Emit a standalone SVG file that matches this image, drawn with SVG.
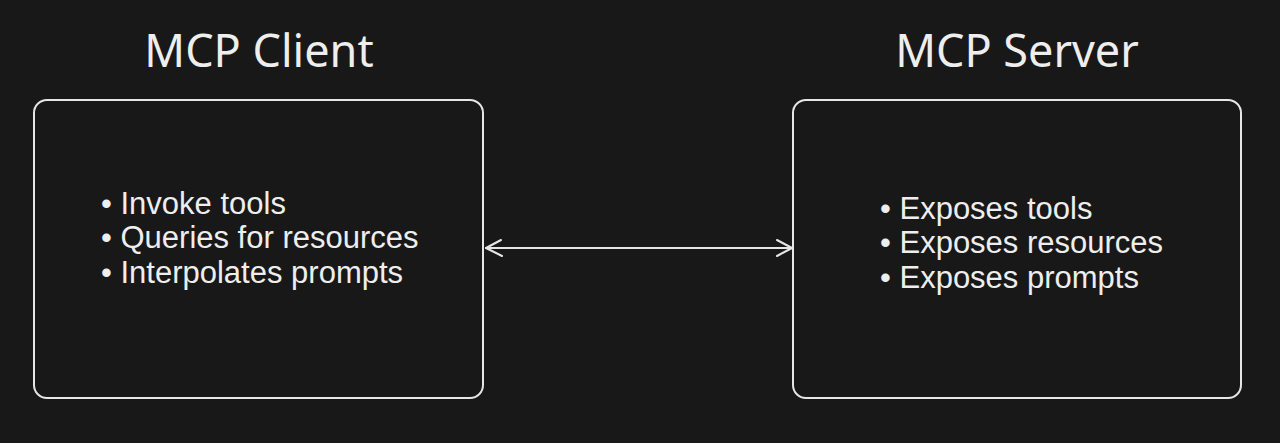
<svg xmlns="http://www.w3.org/2000/svg" width="1280" height="443" viewBox="0 0 1280 443">
<style>
.box{fill:#181818;stroke:#e6e6e6;stroke-width:2}
.title{font-family:"Noto Sans",Lato,sans-serif;font-size:45px;fill:#eeeeee;text-anchor:middle}
.body{font-family:"Liberation Sans",Arial,sans-serif;font-size:31px;fill:#eeeeee}
.conn{stroke:#e6e6e6;stroke-width:2;fill:none;stroke-linecap:round;stroke-linejoin:round}
</style>
<rect width="1280" height="443" fill="#181818"/>
<g id="client">
<text class="title" x="259" y="67">MCP Client</text>
<rect class="box" x="34" y="100" width="449" height="298" rx="13"/>
<text class="body" x="101" y="214">• Invoke tools</text>
<text class="body" x="101" y="248">• Queries for resources</text>
<text class="body" x="101" y="283">• Interpolates prompts</text>
</g>
<g id="server">
<text class="title" x="1017" y="67">MCP Server</text>
<rect class="box" x="793" y="100" width="448" height="298" rx="13"/>
<text class="body" x="880" y="219">• Exposes tools</text>
<text class="body" x="880" y="253">• Exposes resources</text>
<text class="body" x="880" y="288">• Exposes prompts</text>
</g>
<g id="connectors">
<path class="conn" d="M486 248 H792"/>
<path class="conn" d="M501 240 L486 248 L502 256"/>
<path class="conn" d="M777 240 L792 248 L777 256"/>
</g>
</svg>
